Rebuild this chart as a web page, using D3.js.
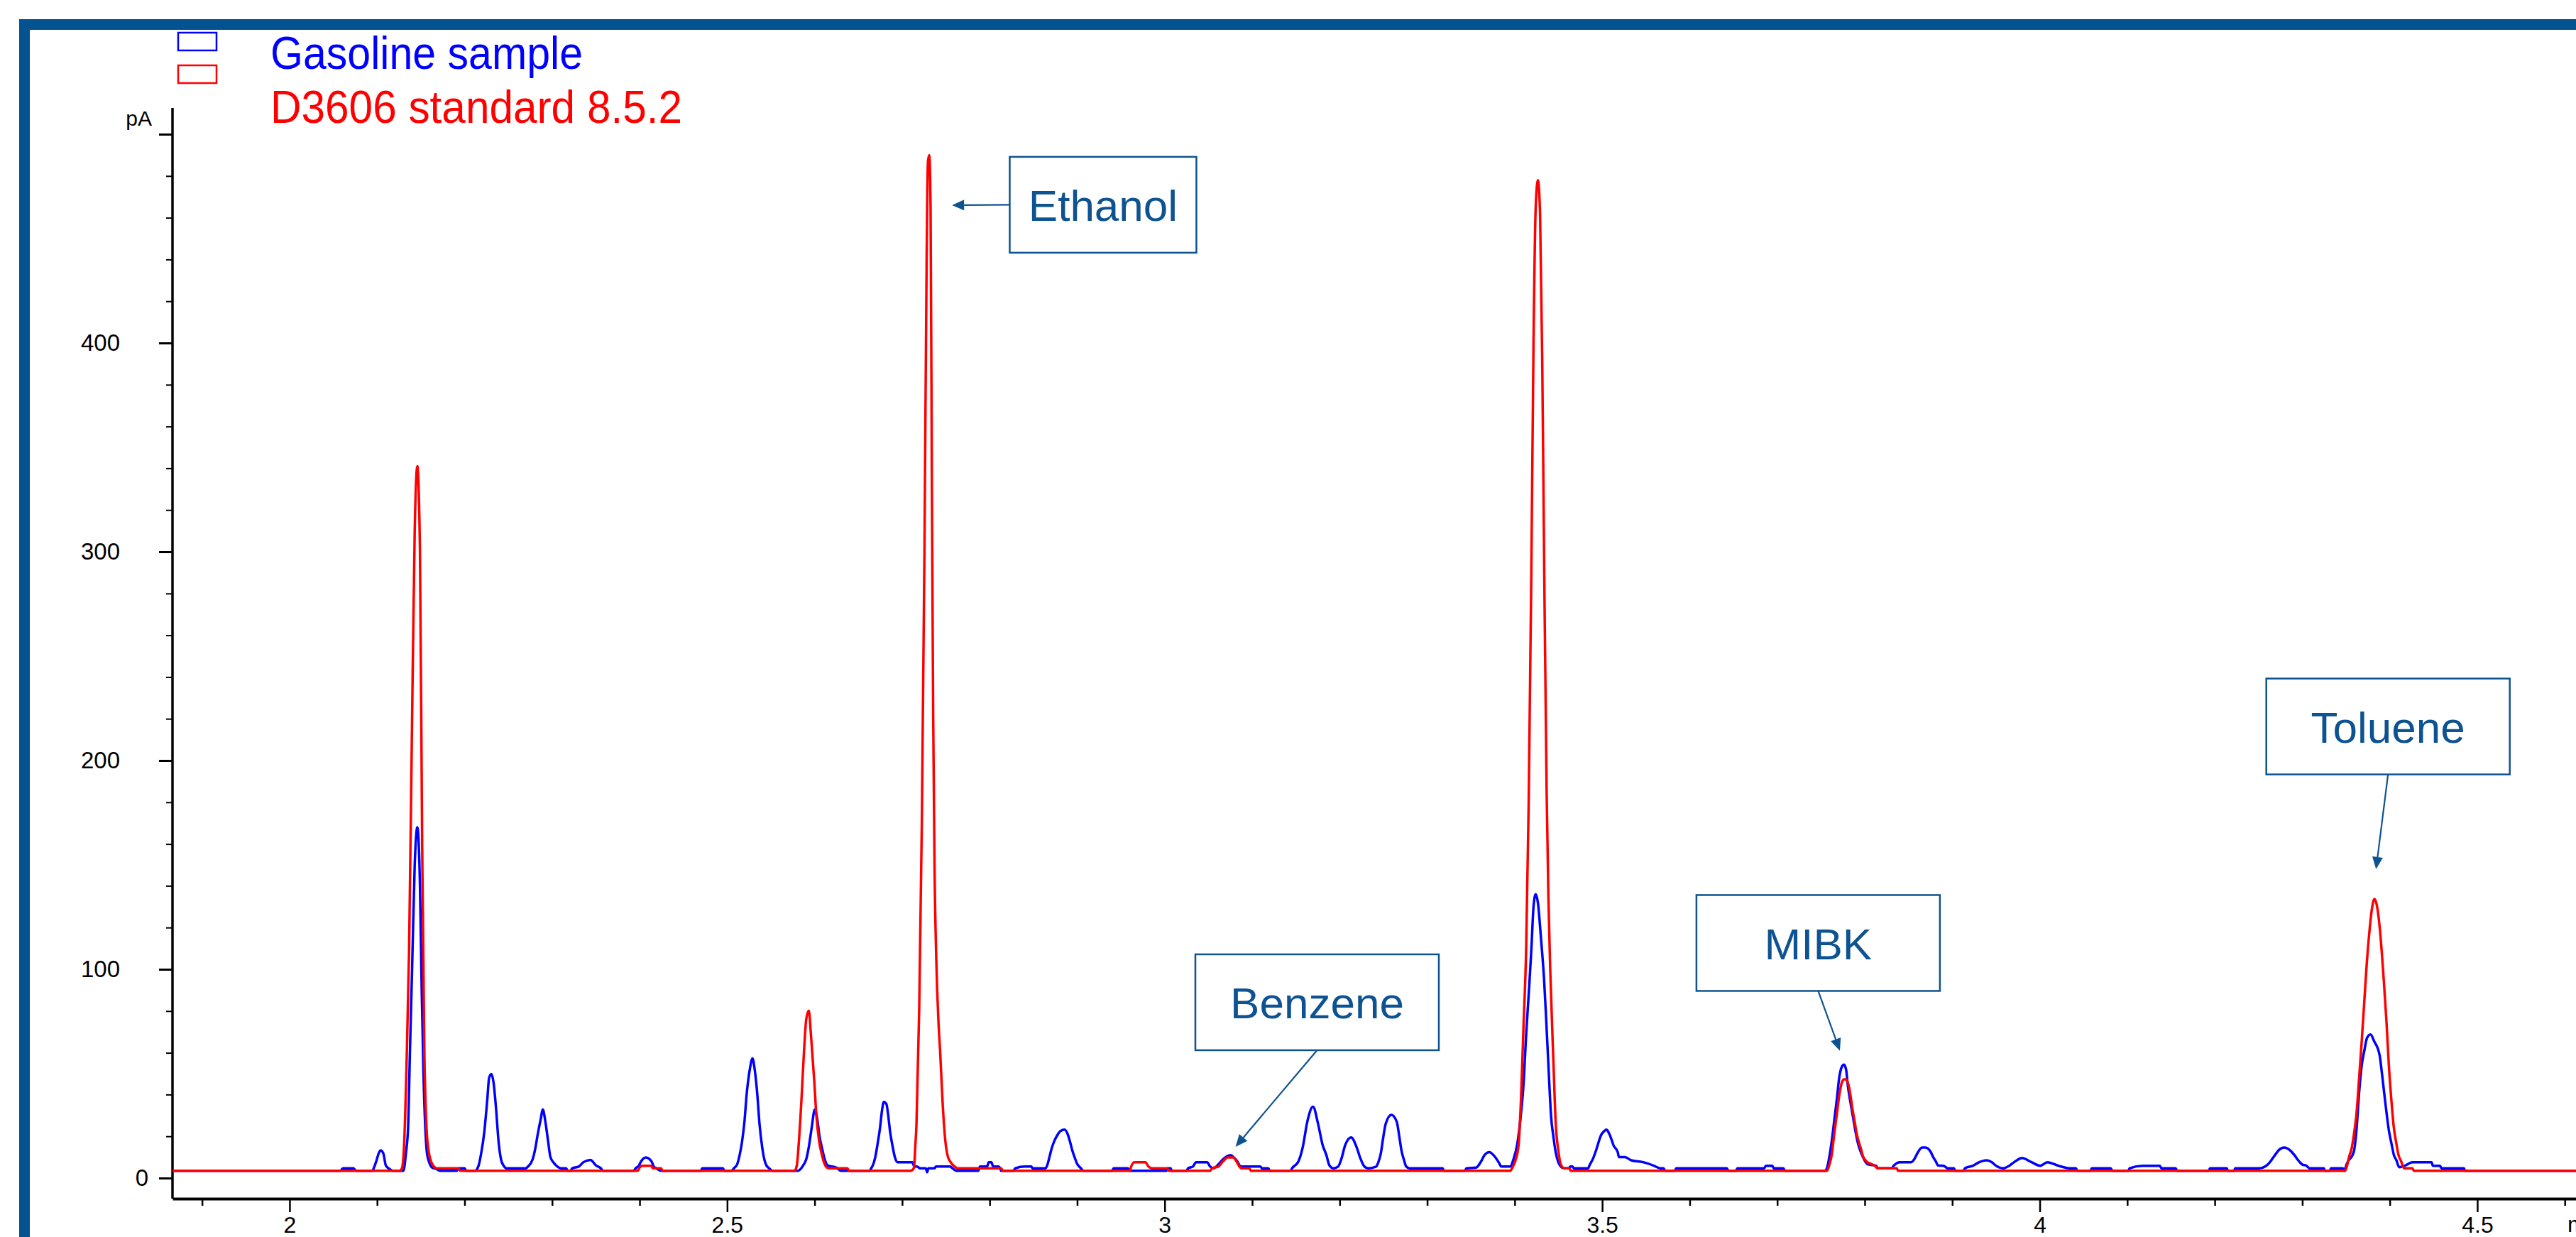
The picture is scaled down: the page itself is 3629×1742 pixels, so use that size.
<!DOCTYPE html>
<html>
<head>
<meta charset="utf-8">
<script src="https://cdn.jsdelivr.net/npm/d3@7"></script>
<style>
    body { margin: 0; background: #fff; }
    svg { display: block; }
    .tick text { font-family: "Liberation Sans", Arial, sans-serif; }
</style>
</head>
<body>
<script>
"use strict"

// retention time (min), signal (pA)
const gasoline = [
    [1.866, 3.5], [2.058, 3.5], [2.061, 4.7], [2.073, 4.7], [2.076, 3.5],
    [2.094, 3.5], [2.099, 8], [2.102, 12], [2.104, 13.3], [2.107, 12], [2.110, 6], [2.113, 4.7], [2.118, 3.5],
    [2.130, 3.5], [2.133, 12], [2.1355, 25], [2.1375, 60], [2.140, 100], [2.143, 150], [2.146, 168], [2.149, 140],
    [2.151, 90], [2.153, 50], [2.155, 25], [2.157, 12], [2.160, 7], [2.163, 5], [2.167, 4.5], [2.172, 3.5],
    [2.191, 3.5], [2.193, 4.7], [2.200, 4.7], [2.202, 3.5],
    [2.212, 3.5], [2.216, 6], [2.219, 12], [2.2225, 22], [2.226, 38], [2.228, 48], [2.2305, 49.8], [2.233, 46],
    [2.236, 33], [2.2387, 18], [2.2416, 9], [2.2445, 6], [2.248, 4.7], [2.270, 4.7],
    [2.2724, 5.5], [2.2778, 9], [2.2807, 14], [2.2836, 21], [2.2869, 28], [2.2894, 32.8], [2.2923, 27], [2.2953, 18],
    [2.2981, 10], [2.3014, 7.6], [2.3061, 5.5], [2.3097, 4.7], [2.316, 4.7], [2.318, 3.5],
    [2.321, 3.5], [2.323, 4.7], [2.3304, 5.5], [2.3358, 7.6], [2.3438, 8.7], [2.3503, 6], [2.3557, 4.7], [2.358, 3.5],
    [2.393, 3.5], [2.3955, 4.7], [2.3992, 6], [2.4017, 8], [2.4071, 9.9], [2.4136, 8], [2.4162, 5.5], [2.419, 4.7], [2.4245, 3.5],
    [2.470, 3.5], [2.4716, 4.7], [2.4951, 4.7], [2.497, 3.5],
    [2.505, 3.5], [2.5078, 4.7], [2.5114, 6.5], [2.5143, 11], [2.5169, 17], [2.5198, 27], [2.5223, 40], [2.5259, 52],
    [2.529, 57.3], [2.5315, 52], [2.5345, 40], [2.537, 26], [2.540, 15], [2.5425, 9], [2.545, 6], [2.548, 4.7], [2.552, 3.5],
    [2.581, 3.5], [2.5832, 4], [2.5868, 6], [2.5904, 9], [2.5934, 15], [2.5966, 24], [2.6002, 32.8], [2.6031, 28],
    [2.6056, 20], [2.6086, 14], [2.6115, 9], [2.6151, 6], [2.625, 5], [2.630, 3.5],
    [2.663, 3.5], [2.6646, 4.7], [2.6664, 6], [2.6693, 10], [2.6718, 16], [2.6747, 24], [2.6772, 33], [2.6791, 36.5],
    [2.682, 35.5], [2.6838, 31], [2.6863, 22], [2.6892, 15], [2.6917, 10], [2.6946, 7.6], [2.7116, 7.6], [2.714, 5.5],
    [2.717, 5.5], [2.7206, 4.7], [2.727, 4.7], [2.7286, 2.8], [2.730, 4.7], [2.737, 4.7], [2.7387, 5.5], [2.755, 5.5],
    [2.7575, 4.7], [2.762, 3.5],
    [2.787, 3.5], [2.789, 5.5], [2.797, 5.5], [2.799, 7.6], [2.802, 7.6], [2.804, 5.5], [2.810, 5.5], [2.812, 4.7], [2.813, 3.5],
    [2.827, 3.5], [2.8294, 4.7], [2.8403, 5.5], [2.8476, 5.5], [2.849, 4.7], [2.8638, 4.7],
    [2.8657, 6], [2.8686, 10.5], [2.8711, 14.5], [2.8747, 18.5], [2.8773, 20.5], [2.8808, 22.5], [2.8856, 23.2],
    [2.8892, 21], [2.8921, 17], [2.8946, 13], [2.8975, 9.5], [2.900, 6.8], [2.9036, 5], [2.9073, 3.5],
    [2.940, 3.5], [2.9417, 4.7], [2.958, 4.7], [2.960, 3.5], [3.002, 3.5], [3.0032, 4.7], [3.0069, 4.7], [3.008, 3.5],
    [3.025, 3.5], [3.0268, 4.7], [3.0322, 5.5], [3.0359, 7.6], [3.0485, 7.6], [3.052, 5.5], [3.0558, 4.7], [3.0613, 6.5],
    [3.0667, 9], [3.075, 11], [3.083, 8], [3.087, 5.5], [3.1094, 5.5], [3.111, 4.7], [3.1185, 4.7], [3.120, 3.5],
    [3.144, 3.5], [3.1456, 4.7], [3.1529, 8], [3.1579, 15], [3.163, 27], [3.1695, 34.2], [3.1753, 26], [3.1804, 16],
    [3.1848, 11], [3.1883, 6], [3.1927, 4.7],
    [3.1982, 5.5], [3.2018, 9], [3.2065, 16], [3.2131, 19.5], [3.2196, 14.5], [3.2236, 9.5], [3.2283, 5.5], [3.2326, 4.7], [3.2417, 5.5],
    [3.2442, 7.6], [3.2471, 12], [3.2496, 19], [3.2526, 26], [3.2591, 30.3], [3.2652, 27], [3.2681, 20], [3.2707, 13],
    [3.2736, 8.5], [3.276, 5.5], [3.2797, 4.7], [3.3177, 4.7], [3.319, 3.5],
    [3.343, 3.5], [3.3449, 4.7], [3.3558, 5], [3.3594, 6.5], [3.3623, 8.5], [3.3655, 11], [3.371, 12.4], [3.3768, 10.5],
    [3.3818, 7.5], [3.3848, 5.5], [3.3949, 5.5],
    [3.3986, 9], [3.4028, 16], [3.4065, 28], [3.4101, 45], [3.413, 68], [3.4166, 92], [3.4191, 110], [3.4215, 130],
    [3.424, 136], [3.4265, 132], [3.430, 115], [3.4336, 95], [3.4361, 75], [3.439, 50], [3.4415, 30], [3.4445, 19],
    [3.447, 12], [3.4499, 7.5], [3.4528, 5.5], [3.456, 4.7],
    [3.462, 4.7], [3.4635, 5.5], [3.466, 5.5], [3.4675, 4.7], [3.484, 4.7],
    [3.4854, 6], [3.4897, 9.5], [3.4932, 13.5], [3.4961, 17.5], [3.4986, 20.5], [3.5023, 22.5], [3.5048, 23.2],
    [3.5077, 21.5], [3.5106, 18.5], [3.5131, 15.5], [3.5177, 12.5], [3.5192, 10], [3.526, 10], [3.5332, 8.5],
    [3.5467, 7.6], [3.5586, 6], [3.5665, 4.7], [3.5701, 4.7], [3.572, 3.5],
    [3.583, 3.5], [3.5846, 4.7], [3.6425, 4.7], [3.644, 3.5], [3.653, 3.5], [3.6545, 4.7], [3.6852, 4.7], [3.687, 5.9],
    [3.6943, 5.9], [3.696, 4.7], [3.707, 4.7], [3.709, 3.5],
    [3.7545, 3.5], [3.757, 5], [3.7595, 10], [3.7624, 18], [3.7653, 28], [3.7682, 38], [3.7708, 48], [3.7735, 53],
    [3.7762, 54.3], [3.7787, 52], [3.7805, 45], [3.7842, 35], [3.7871, 28], [3.7896, 22], [3.7921, 17], [3.795, 13],
    [3.798, 10], [3.8005, 8], [3.804, 6.5], [3.8131, 5.9], [3.8145, 4.7], [3.831, 4.7],
    [3.833, 5.9], [3.8403, 7.6], [3.853, 7.6], [3.8566, 9], [3.8603, 12], [3.8655, 14.6], [3.8693, 14.6], [3.8754, 12.5],
    [3.8783, 10], [3.8812, 8], [3.8838, 6], [3.89, 5.9], [3.8947, 4.7], [3.9019, 4.7], [3.9035, 3.5],
    [3.913, 3.5], [3.9145, 4.7], [3.9236, 5.9], [3.9308, 7.6], [3.9392, 8.5], [3.9453, 7.6], [3.95, 5.9], [3.958, 4.7],
    [3.9652, 5.9], [3.9707, 7.6], [3.9797, 9.6], [3.9906, 7.6], [4.0007, 5.9], [4.0087, 7.6], [4.0213, 5.9], [4.034, 4.7],
    [4.0413, 4.7], [4.043, 3.5],
    [4.058, 3.5], [4.0594, 4.7], [4.0811, 4.7], [4.083, 3.5], [4.101, 3.5], [4.1029, 4.7], [4.1173, 5.9], [4.1372, 5.9],
    [4.139, 4.7], [4.1553, 4.7], [4.157, 3.5],
    [4.193, 3.5], [4.1946, 4.7], [4.2138, 4.7], [4.215, 3.5], [4.222, 3.5], [4.2233, 4.7], [4.2507, 4.7],
    [4.2589, 5.9], [4.263, 7.6], [4.2671, 10], [4.2707, 12.1], [4.2734, 13.5], [4.2794, 14.6], [4.2862, 13.2], [4.289, 12],
    [4.292, 10.5], [4.2944, 9], [4.2972, 7.6], [4.300, 6.5], [4.3049, 5.9], [4.3082, 4.7], [4.3246, 4.7], [4.326, 3.5],
    [4.3315, 3.5], [4.3328, 4.7], [4.3464, 4.7], [4.348, 3.5],
    [4.3495, 5], [4.3506, 6.5], [4.3588, 12.5], [4.3621, 23.8], [4.3648, 40], [4.3678, 53.5], [4.3709, 61], [4.3739, 67],
    [4.378, 68.8], [4.3821, 65.6], [4.3884, 58.8], [4.3908, 51], [4.3936, 40.8], [4.3963, 31.2], [4.399, 22.7],
    [4.4017, 17], [4.4048, 10.9], [4.4075, 8.6], [4.4108, 5.2], [4.4172, 5.9], [4.4259, 7.6], [4.4478, 7.6],
    [4.4492, 5.9], [4.4574, 5.9], [4.459, 4.7], [4.4847, 4.7], [4.486, 3.5], [4.613, 3.5]
];

const standard = [
    [1.866, 3.5],
    [2.126, 3.5], [2.1286, 5], [2.1311, 18], [2.1337, 55], [2.1366, 110], [2.140, 220], [2.143, 310], [2.146, 341],
    [2.149, 300], [2.1515, 160], [2.154, 61], [2.1565, 24], [2.159, 12.7], [2.162, 7.6], [2.165, 5.5], [2.168, 4.7],
    [2.193, 4.7], [2.195, 3.5],
    [2.398, 3.5], [2.3995, 4.7], [2.4028, 5.9], [2.4136, 5.9], [2.415, 4.7], [2.4245, 4.7], [2.4263, 3.5],
    [2.577, 3.5], [2.5796, 6], [2.5821, 18], [2.585, 38], [2.5879, 61], [2.5904, 76], [2.5934, 80.2], [2.5959, 68],
    [2.5995, 47], [2.602, 30], [2.605, 18], [2.6078, 12], [2.6103, 8], [2.6129, 5.5], [2.6157, 4.7], [2.6375, 4.7], [2.639, 3.5],
    [2.710, 3.5], [2.7136, 5], [2.715, 15], [2.7164, 26], [2.7195, 81], [2.7225, 170], [2.7255, 300], [2.728, 440],
    [2.7295, 487], [2.731, 490], [2.7325, 465], [2.734, 330], [2.7355, 220], [2.737, 150], [2.739, 105], [2.7415, 75],
    [2.7435, 60], [2.7464, 35], [2.7492, 18.5], [2.7518, 11], [2.7554, 7.6], [2.7608, 5.3], [2.7625, 4.7], [2.8132, 4.7], [2.815, 3.5],
    [2.960, 3.5], [2.9617, 5.5], [2.9652, 7.6], [2.978, 7.6], [2.9815, 5.5], [2.9852, 4.7], [3.003, 4.7], [3.0045, 3.5],
    [3.052, 3.5], [3.054, 4.7], [3.0613, 5.5], [3.0667, 8], [3.072, 9.9], [3.0785, 9.9], [3.082, 8], [3.0855, 5.5],
    [3.0877, 4.7], [3.0967, 4.7], [3.0985, 3.5],
    [3.395, 3.5], [3.3973, 5], [3.4009, 8.5], [3.4045, 16], [3.4073, 39], [3.4101, 73], [3.4131, 110], [3.416, 180],
    [3.419, 290], [3.4215, 400], [3.424, 465], [3.4265, 478], [3.429, 462], [3.4315, 390], [3.434, 280], [3.4365, 185],
    [3.4385, 135], [3.4406, 100], [3.4443, 55], [3.4469, 26], [3.4498, 13.4], [3.4527, 6.6], [3.4568, 4.7], [3.4625, 4.7], [3.464, 3.5],
    [3.757, 3.5], [3.7595, 6.3], [3.7624, 11.4], [3.7653, 21.7], [3.7682, 30.8], [3.7708, 39.3], [3.7733, 45],
    [3.7762, 47.3], [3.7787, 47.3], [3.7805, 46], [3.7834, 40.5], [3.786, 33], [3.7885, 27], [3.7907, 21.5],
    [3.7933, 17.2], [3.7958, 13.8], [3.798, 10.4], [3.8005, 8.7], [3.803, 7.6], [3.8059, 7], [3.8114, 5.9], [3.815, 4.7],
    [3.8367, 4.7], [3.838, 3.5],
    [4.349, 3.5], [4.3506, 5], [4.3534, 10], [4.3566, 14.6], [4.3594, 22], [4.3621, 31.5], [4.3648, 47], [4.3678, 64.7],
    [4.3711, 86], [4.3739, 104], [4.3767, 118], [4.3796, 129], [4.3825, 133.7], [4.3855, 130], [4.3885, 120],
    [4.3931, 95], [4.3963, 74.4], [4.399, 53.5], [4.4017, 38], [4.4045, 24.6], [4.4072, 17.3], [4.41, 11], [4.413, 8],
    [4.4163, 4.7], [4.4259, 4.7], [4.4275, 3.5], [4.613, 3.5]
];

const seriesNames = ["Gasoline sample", "D3606 standard 8.5.2"];
const seriesColors = ["#0000ff", "#ff0000"];

const xTicks = [2, 2.5, 3, 3.5, 4, 4.5];
const yTicks = [0, 100, 200, 300, 400, 500];

// callouts: label, arrow tip (min, pA), box centre (min, pA)
const calloutLabels = ["Ethanol", "Benzene", "MIBK", "Toluene"];
const calloutTips = [[2.757, 466], [3.081, 15], [3.7716, 61], [4.3843, 148]];
const calloutBoxes = [[2.9296, 466.2], [3.1742, 84.2], [3.7468, 112.6], [4.398, 216.3]];

let width = 3629,
    height = 1742;
const frameColor = "#04528f";
const noteColor = "#0e5391";
const font = "'Liberation Sans', Arial, sans-serif";
const legendWidths = [440, 580];

const svg = d3.select("body").append("svg")
    .attr("width", width)
    .attr("height", height)
    .style("background", "#fff");

const scaleX = d3.scaleLinear()
    .domain([1.8662, 4.6128])
    .range([243, 3629]);

const scaleY = d3.scaleLinear()
    .domain([0, 500])
    .range([1659, 189]);

const axisY0 = 1688;   // x axis line
const axisTop = 152;   // top of y axis line

//рамка
svg.append("rect")
    .attr("x", 27).attr("y", 27)
    .attr("width", width - 27).attr("height", 15)
    .attr("fill", frameColor);
svg.append("rect")
    .attr("x", 27).attr("y", 27)
    .attr("width", 15).attr("height", height - 27)
    .attr("fill", frameColor);

//легенда
seriesNames.forEach((name, i) => {
    svg.append("rect")
        .attr("x", 251)
        .attr("y", 46 + i * 46)
        .attr("width", 54)
        .attr("height", 25)
        .attr("fill", "none")
        .attr("stroke", seriesColors[i])
        .attr("stroke-width", 2.5);
    svg.append("text")
        .attr("x", 381)
        .attr("y", 97 + i * 76)
        .attr("font-family", font)
        .attr("font-size", 64)
        .attr("textLength", legendWidths[i])
        .attr("lengthAdjust", "spacingAndGlyphs")
        .attr("fill", seriesColors[i])
        .text(name);
});

//ось x
const xMinor = scaleX.ticks(30).filter(d => !xTicks.some(t => Math.abs(t - d) < 1e-6));

svg.append("g")
    .attr("transform", "translate(0," + axisY0 + ")")
    .call(d3.axisBottom(scaleX).tickValues(xMinor).tickSize(10).tickSizeOuter(0).tickFormat(""))
    .call(g => g.select(".domain").attr("stroke-width", 4))
    .call(g => g.selectAll(".tick line").attr("stroke-width", 2.5));

svg.append("g")
    .attr("transform", "translate(0," + axisY0 + ")")
    .call(d3.axisBottom(scaleX).tickValues(xTicks).tickSize(19).tickSizeOuter(0).tickPadding(6)
        .tickFormat(d3.format("")))
    .call(g => g.select(".domain").remove())
    .call(g => g.selectAll(".tick line").attr("stroke-width", 2.5))
    .call(g => g.selectAll(".tick text").attr("font-size", 32).attr("fill", "#000"));

svg.append("text")
    .attr("x", 3617)
    .attr("y", 1735)
    .attr("font-family", font)
    .attr("font-size", 32)
    .text("min");

//ось y
svg.append("line")
    .attr("x1", 243).attr("x2", 243)
    .attr("y1", axisTop).attr("y2", axisY0)
    .attr("stroke", "#000")
    .attr("stroke-width", 3.5);

const yMinor = scaleY.ticks(25).filter(d => d % 100 !== 0);

svg.append("g")
    .attr("transform", "translate(243,0)")
    .call(d3.axisLeft(scaleY).tickValues(yMinor).tickSize(9).tickFormat(""))
    .call(g => g.select(".domain").remove())
    .call(g => g.selectAll(".tick line").attr("stroke-width", 2));

svg.append("g")
    .attr("transform", "translate(243,0)")
    .call(d3.axisLeft(scaleY).tickValues(yTicks).tickSize(19)
        .tickFormat(d => d === 500 ? "" : d))
    .call(g => g.select(".domain").remove())
    .call(g => g.selectAll(".tick line").attr("stroke-width", 3))
    .call(g => g.selectAll(".tick text")
        .attr("font-size", 33)
        .attr("fill", "#000")
        .attr("x", d => d === 0 ? -34 : -74));

svg.append("text")
    .attr("x", 214)
    .attr("y", 177)
    .attr("text-anchor", "end")
    .attr("font-family", font)
    .attr("font-size", 30)
    .text("pA");

//хроматограммы
svg.append("clipPath")
    .attr("id", "plot-clip")
    .append("rect")
    .attr("x", 243).attr("y", axisTop)
    .attr("width", width - 243).attr("height", axisY0 - axisTop);

const line = d3.line()
    .x(d => scaleX(d[0]))
    .y(d => scaleY(d[1]))
    .curve(d3.curveMonotoneX);

[gasoline, standard].forEach((data, i) => {
    svg.append("path")
        .datum(data)
        .attr("clip-path", "url(#plot-clip)")
        .attr("fill", "none")
        .attr("stroke", seriesColors[i])
        .attr("stroke-width", 3.5)
        .attr("stroke-linejoin", "round")
        .attr("d", line);
});

//подписи пиков
function arrow(x1, y1, x2, y2) {
    const len = Math.hypot(x2 - x1, y2 - y1);
    const ux = (x2 - x1) / len, uy = (y2 - y1) / len;
    const headLen = 17, headW = 7.5;
    const bx = x2 - ux * headLen, by = y2 - uy * headLen;
    svg.append("line")
        .attr("x1", x1).attr("y1", y1)
        .attr("x2", bx).attr("y2", by)
        .attr("stroke", noteColor)
        .attr("stroke-width", 2.2);
    svg.append("polygon")
        .attr("fill", noteColor)
        .attr("points", [
            [x2, y2],
            [bx - uy * headW, by + ux * headW],
            [bx + uy * headW, by - ux * headW]
        ].map(p => p.join(",")).join(" "));
}

calloutLabels.forEach((label, i) => {
    const bw = label === "Ethanol" ? 263 : 343, bh = 135;
    const cx = scaleX(calloutBoxes[i][0]), cy = scaleY(calloutBoxes[i][1]);
    const tx = scaleX(calloutTips[i][0]), ty = scaleY(calloutTips[i][1]);

    svg.append("rect")
        .attr("x", cx - bw / 2).attr("y", cy - bh / 2)
        .attr("width", bw).attr("height", bh)
        .attr("fill", "#fff")
        .attr("stroke", noteColor)
        .attr("stroke-width", 2.5);
    svg.append("text")
        .attr("x", cx)
        .attr("y", cy + 23)
        .attr("text-anchor", "middle")
        .attr("font-family", font)
        .attr("font-size", 62)
        .attr("fill", noteColor)
        .text(label);

    if (label === "Ethanol") {
        arrow(cx - bw / 2, cy, tx, ty);
    } else {
        arrow(cx, cy + bh / 2, tx, ty);
    }
});
</script>
</body>
</html>
